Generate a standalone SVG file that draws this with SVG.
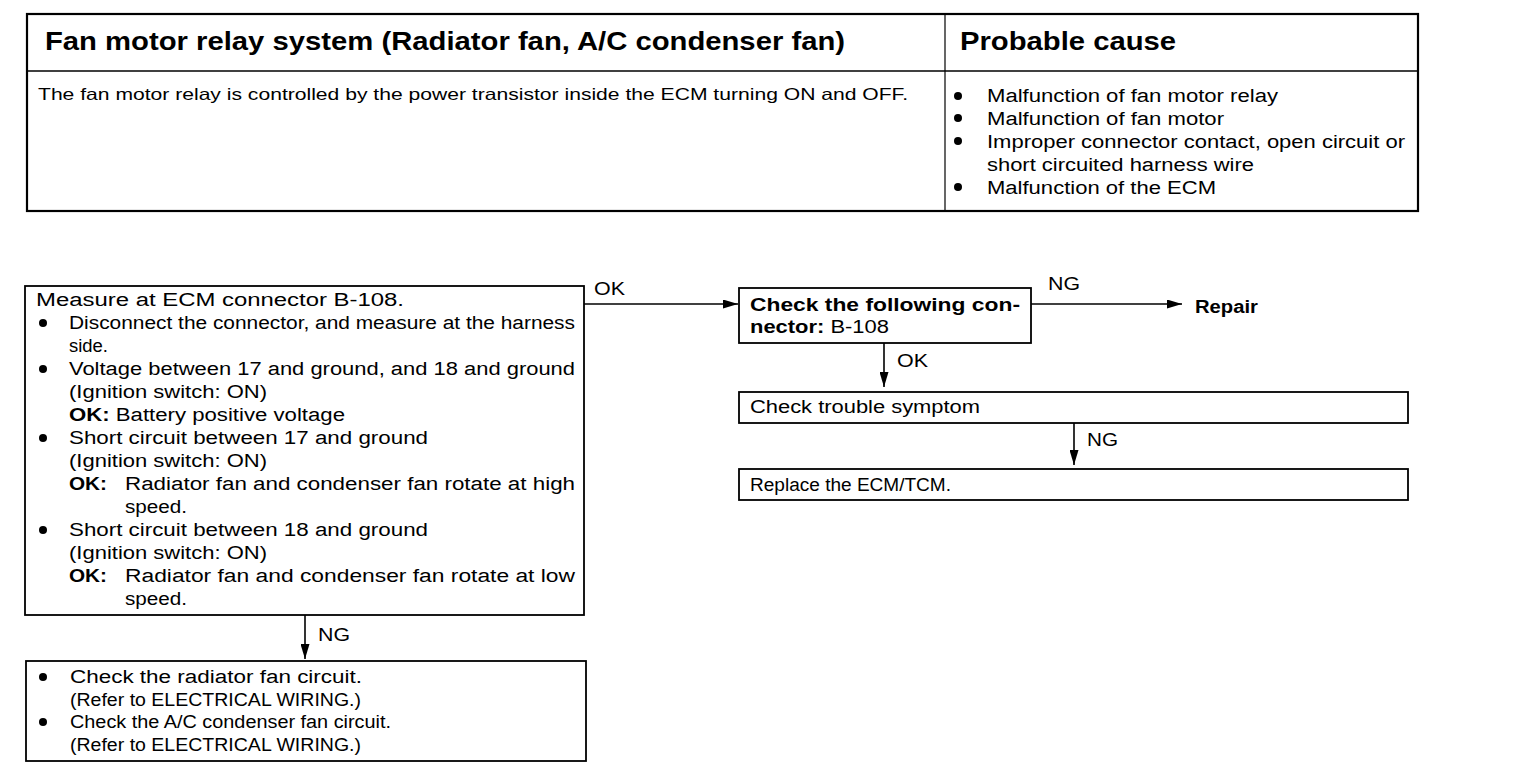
<svg xmlns="http://www.w3.org/2000/svg" width="1520" height="776" viewBox="0 0 1520 776">
<defs>
<style>
text{font-family:"Liberation Sans",Arial,sans-serif;fill:#000}
.t{font-size:18px}
.b{font-weight:bold}
.h{font-size:25px;font-weight:bold}
.s{font-size:16.5px}
.box{fill:#fff;stroke:#000;stroke-width:1.8}
.ln{fill:none;stroke:#000;stroke-width:1.6}
.dot{fill:#000}
</style>
<marker id="arr" viewBox="0 0 15 9" refX="15" refY="4.5" markerWidth="15" markerHeight="9" markerUnits="userSpaceOnUse" orient="auto">
<path d="M0,0 L15,4.5 L0,9 z" fill="#000"/>
</marker>
</defs>
<rect width="1520" height="776" fill="#fff"/>

<g id="table">
<rect x="27" y="14" width="1391" height="197" fill="#fff" stroke="#000" stroke-width="2.2"/>
<line x1="27" y1="71" x2="1418" y2="71" stroke="#000" stroke-width="1.6"/>
<line x1="945" y1="14" x2="945" y2="211" stroke="#000" stroke-width="1.2"/>
<text class="h" x="45" y="50" textLength="800" lengthAdjust="spacingAndGlyphs">Fan motor relay system (Radiator fan, A/C condenser fan)</text>
<text class="h" x="960" y="50" textLength="216" lengthAdjust="spacingAndGlyphs">Probable cause</text>
<text class="s" x="38" y="100" textLength="870" lengthAdjust="spacingAndGlyphs">The fan motor relay is controlled by the power transistor inside the ECM turning ON and OFF.</text>
<circle class="dot" cx="958" cy="96" r="4"/>
<circle class="dot" cx="958" cy="118" r="4"/>
<circle class="dot" cx="958" cy="141" r="4"/>
<circle class="dot" cx="958" cy="187" r="4"/>
<text class="t" x="987" y="102" textLength="291" lengthAdjust="spacingAndGlyphs">Malfunction of fan motor relay</text>
<text class="t" x="987" y="124.5" textLength="237" lengthAdjust="spacingAndGlyphs">Malfunction of fan motor</text>
<text class="t" x="987" y="147.5" textLength="418" lengthAdjust="spacingAndGlyphs">Improper connector contact, open circuit or</text>
<text class="t" x="987" y="170.5" textLength="267" lengthAdjust="spacingAndGlyphs">short circuited harness wire</text>
<text class="t" x="987" y="193.5" textLength="229" lengthAdjust="spacingAndGlyphs">Malfunction of the ECM</text>
</g>

<g id="connectors">
<line class="ln" x1="584" y1="304" x2="738" y2="304" marker-end="url(#arr)"/>
<text class="t" x="594" y="295" textLength="31" lengthAdjust="spacingAndGlyphs">OK</text>
<line class="ln" x1="1031" y1="304" x2="1182" y2="304" marker-end="url(#arr)"/>
<text class="t" x="1048" y="290" textLength="32" lengthAdjust="spacingAndGlyphs">NG</text>
<line class="ln" x1="884" y1="343" x2="884" y2="387" marker-end="url(#arr)"/>
<text class="t" x="897" y="367" textLength="31" lengthAdjust="spacingAndGlyphs">OK</text>
<line class="ln" x1="1074" y1="423" x2="1074" y2="465" marker-end="url(#arr)"/>
<text class="t" x="1087" y="446" textLength="31" lengthAdjust="spacingAndGlyphs">NG</text>
<line class="ln" x1="305" y1="615" x2="305" y2="659" marker-end="url(#arr)"/>
<text class="t" x="318" y="641" textLength="32" lengthAdjust="spacingAndGlyphs">NG</text>
</g>

<g id="measure">
<rect class="box" x="25" y="286" width="559" height="329"/>
<text class="t" x="36" y="306" textLength="368" lengthAdjust="spacingAndGlyphs">Measure at ECM connector B-108.</text>
<circle class="dot" cx="43" cy="323" r="4"/>
<text class="t" x="69" y="329" textLength="506" lengthAdjust="spacingAndGlyphs">Disconnect the connector, and measure at the harness</text>
<text class="t" x="69" y="352" textLength="39" lengthAdjust="spacingAndGlyphs">side.</text>
<circle class="dot" cx="43" cy="369" r="4"/>
<text class="t" x="69" y="375" textLength="506" lengthAdjust="spacingAndGlyphs">Voltage between 17 and ground, and 18 and ground</text>
<text class="t" x="69" y="398" textLength="198" lengthAdjust="spacingAndGlyphs">(Ignition switch: ON)</text>
<text class="t" x="69" y="421" textLength="276" lengthAdjust="spacingAndGlyphs"><tspan class="b">OK:</tspan> Battery positive voltage</text>
<circle class="dot" cx="43" cy="438" r="4"/>
<text class="t" x="69" y="444" textLength="359" lengthAdjust="spacingAndGlyphs">Short circuit between 17 and ground</text>
<text class="t" x="69" y="467" textLength="198" lengthAdjust="spacingAndGlyphs">(Ignition switch: ON)</text>
<text class="t b" x="69" y="490" textLength="38" lengthAdjust="spacingAndGlyphs">OK:</text>
<text class="t" x="125" y="490" textLength="450" lengthAdjust="spacingAndGlyphs">Radiator fan and condenser fan rotate at high</text>
<text class="t" x="125" y="513" textLength="62" lengthAdjust="spacingAndGlyphs">speed.</text>
<circle class="dot" cx="43" cy="530" r="4"/>
<text class="t" x="69" y="536" textLength="359" lengthAdjust="spacingAndGlyphs">Short circuit between 18 and ground</text>
<text class="t" x="69" y="559" textLength="198" lengthAdjust="spacingAndGlyphs">(Ignition switch: ON)</text>
<text class="t b" x="69" y="582" textLength="38" lengthAdjust="spacingAndGlyphs">OK:</text>
<text class="t" x="125" y="582" textLength="450" lengthAdjust="spacingAndGlyphs">Radiator fan and condenser fan rotate at low</text>
<text class="t" x="125" y="605" textLength="62" lengthAdjust="spacingAndGlyphs">speed.</text>
</g>

<g id="check-circuits">
<rect class="box" x="26" y="661" width="560" height="100"/>
<circle class="dot" cx="43" cy="677" r="4"/>
<text class="t" x="70" y="683" textLength="292" lengthAdjust="spacingAndGlyphs">Check the radiator fan circuit.</text>
<text class="t" x="70" y="706" textLength="291" lengthAdjust="spacingAndGlyphs">(Refer to ELECTRICAL WIRING.)</text>
<circle class="dot" cx="43" cy="722" r="4"/>
<text class="t" x="70" y="728" textLength="321" lengthAdjust="spacingAndGlyphs">Check the A/C condenser fan circuit.</text>
<text class="t" x="70" y="751" textLength="291" lengthAdjust="spacingAndGlyphs">(Refer to ELECTRICAL WIRING.)</text>
</g>

<g id="check-connector">
<rect class="box" x="739" y="288" width="292" height="55"/>
<text class="t b" x="750" y="311" textLength="270" lengthAdjust="spacingAndGlyphs">Check the following con-</text>
<text class="t" x="750" y="333" textLength="139" lengthAdjust="spacingAndGlyphs"><tspan class="b">nector:</tspan> B-108</text>
</g>

<g id="repair">
<text class="t b" x="1195" y="313" textLength="63" lengthAdjust="spacingAndGlyphs">Repair</text>
</g>

<g id="trouble-symptom">
<rect class="box" x="739" y="392" width="669" height="31"/>
<text class="t" x="750" y="413" textLength="230" lengthAdjust="spacingAndGlyphs">Check trouble symptom</text>
</g>

<g id="replace-ecm">
<rect class="box" x="739" y="469" width="669" height="31"/>
<text class="t" x="750" y="491" textLength="201" lengthAdjust="spacingAndGlyphs">Replace the ECM/TCM.</text>
</g>
</svg>
